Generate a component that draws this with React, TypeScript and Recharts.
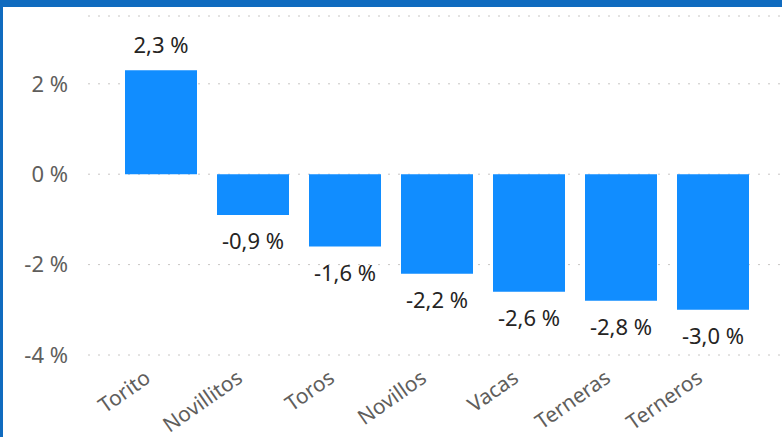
import React from "react";
import { BarChart, Bar, XAxis, YAxis, CartesianGrid, LabelList } from "recharts";

const categories = ["Torito", "Novillitos", "Toros", "Novillos", "Vacas", "Terneras", "Terneros"];
const values = [2.3, -0.9, -1.6, -2.2, -2.6, -2.8, -3.0];
const yTicks = [-4, -2, 0, 2];

const data = categories.map((c, i) => ({ name: c, value: values[i] }));

const FONT = "'Segoe UI', 'Noto Sans', sans-serif";
const fmt = (v: number) => v.toFixed(1).replace(".", ",") + " %";

const XTick = (props: any) => {
  const { x, y, payload } = props;
  return (
    <g transform={`translate(${x - 9},${y + 18})`}>
      <text
        x={0}
        y={0}
        textAnchor="end"
        transform="rotate(-35)"
        fill="#605E5C"
        fontSize={21}
        fontFamily={FONT}
      >
        {payload.value}
      </text>
    </g>
  );
};

const ValueLabel = (props: any) => {
  const { x, y, width, height, value } = props;
  const top = Math.min(y, y + height);
  const bottom = Math.max(y, y + height);
  const cy = value >= 0 ? top - 26 : bottom + 25;
  return (
    <text
      x={x + width / 2}
      y={cy}
      textAnchor="middle"
      dominantBaseline="central"
      fill="#252423"
      fontSize={22}
      fontFamily={FONT}
    >
      {fmt(value)}
    </text>
  );
};

export default function App() {
  return (
    <div style={{ position: "absolute", left: 0, top: 0, width: 782, height: 437, background: "#fff", overflow: "hidden" }}>
      <div style={{ position: "absolute", left: 0, top: 0, width: 782, height: 7, background: "#106BBF" }} />
      <div style={{ position: "absolute", left: 0, top: 0, width: 3, height: 437, background: "#106BBF" }} />
      <div style={{ position: "absolute", left: 0, top: 0 }}>
        <BarChart width={782} height={437} data={data} margin={{ top: 16, right: 0, bottom: 0, left: 0 }}>
          <CartesianGrid vertical={false} stroke="#C8C6C4" strokeDasharray="2 8" />
          <XAxis
            dataKey="name"
            axisLine={false}
            tickLine={false}
            interval={0}
            height={82}
            padding={{ left: 27, right: 23 }}
            tick={<XTick />}
          />
          <YAxis
            domain={[-4, 3.5]}
            ticks={yTicks}
            axisLine={false}
            tickLine={false}
            tickSize={0}
            tickMargin={20}
            width={88}
            tickFormatter={(v: number) => `${v} %`}
            tick={{ fill: "#605E5C", fontSize: 22, fontFamily: FONT }}
          />
          <Bar dataKey="value" fill="#118DFF" barSize={72} isAnimationActive={false}>
            <LabelList dataKey="value" content={<ValueLabel />} />
          </Bar>
        </BarChart>
      </div>
    </div>
  );
}
